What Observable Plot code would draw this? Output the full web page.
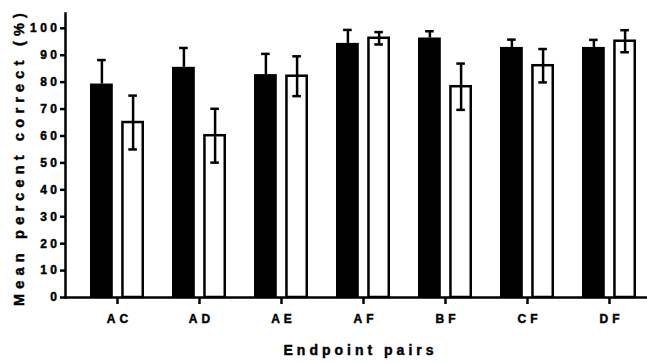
<!DOCTYPE html>
<html>
<head>
<meta charset="utf-8">
<script src="https://cdn.jsdelivr.net/npm/d3@7"></script>
<script src="https://cdn.jsdelivr.net/npm/@observablehq/plot@0.6"></script>
<style>
  html, body { margin: 0; padding: 0; background: #fff; overflow: hidden; }
  #chart svg { display: block; }
</style>
</head>
<body>
<div id="chart"></div>
<script>
// Endpoint pairs and the two groups (filled and open bars), mean ± error
const pairs = ["AC", "AD", "AE", "AF", "BF", "CF", "DF"];
const filledMeans = [79.3, 85.5, 82.8, 94.4, 96.4, 92.9, 92.9];
const filledErrors = [8.9, 7.2, 7.7, 5.0, 2.5, 2.9, 2.8];
const openMeans = [65.0, 60.1, 82.2, 96.3, 78.3, 86.1, 95.2];
const openErrors = [10.0, 10.0, 7.4, 2.3, 8.6, 6.2, 4.1];
const yTicks = d3.range(0, 101, 10);

const filled = pairs.map((pair, i) => ({pair, mean: filledMeans[i], err: filledErrors[i]}));
const open = pairs.map((pair, i) => ({pair, mean: openMeans[i], err: openErrors[i]}));

// Each band holds two bars side by side
const BAR = 23.2, GAP = 8, BAND = 2 * BAR + GAP, CAP = 4.5;
const shift = BAND / 2 - BAR / 2;
const capNear = BAR / 2 - CAP, capFar = BAND - BAR / 2 - CAP;

const font = "'Liberation Sans', Arial, Helvetica, sans-serif";

const chart = Plot.plot({
  width: 647,
  height: 363,
  marginLeft: 65,
  marginRight: 0,
  marginTop: 13,
  marginBottom: 66,
  style: {fontFamily: font, color: "#000", background: "#fff"},
  x: {type: "band", domain: pairs, paddingInner: 0.343, paddingOuter: 0.187, align: 0.7},
  y: {domain: [0, 105.5]},
  marks: [
    // filled bars with upper error whisker
    Plot.barY(filled, {x: "pair", y: "mean", fill: "#000", insetLeft: 0, insetRight: BAR + GAP}),
    Plot.ruleX(filled, {x: "pair", y1: "mean", y2: d => d.mean + d.err, stroke: "#000", strokeWidth: 2.5, dx: -shift}),
    Plot.tickY(filled, {x: "pair", y: d => d.mean + d.err, stroke: "#000", strokeWidth: 2.5, insetLeft: capNear, insetRight: capFar}),
    // open bars with two-sided error bars
    Plot.barY(open, {x: "pair", y: "mean", fill: "#fff", stroke: "#000", strokeWidth: 2.5, insetLeft: BAR + GAP + 1.25, insetRight: 1.25}),
    Plot.ruleX(open, {x: "pair", y1: d => d.mean - d.err, y2: d => d.mean + d.err, stroke: "#000", strokeWidth: 2.5, dx: shift}),
    Plot.tickY(open, {x: "pair", y: d => d.mean + d.err, stroke: "#000", strokeWidth: 2.5, insetLeft: capFar, insetRight: capNear}),
    Plot.tickY(open, {x: "pair", y: d => d.mean - d.err, stroke: "#000", strokeWidth: 2.5, insetLeft: capFar, insetRight: capNear}),
    // axes
    Plot.axisY(yTicks, {tickSize: 5, tickPadding: 2, strokeWidth: 2.5, fontSize: 12, fontWeight: "bold", label: null}),
    Plot.axisX({tickSize: 7, tickPadding: 10, strokeWidth: 2.5, fontSize: 12, fontWeight: "bold", label: null}),
    Plot.frame({anchor: "left", strokeWidth: 2.5}),
    Plot.ruleY([0], {strokeWidth: 2.5}),
    // axis titles
    Plot.text(["Mean percent correct (%)"], {frameAnchor: "left", textAnchor: "middle", rotate: -90, dx: -46, dy: 4, fontSize: 14.5, fontWeight: "bold"}),
    Plot.text(["Endpoint pairs"], {frameAnchor: "bottom", dy: 57, dx: 4, fontSize: 14, fontWeight: "bold"})
  ]
});

// letter spacing and a touch of extra weight for the heavy lettering
const svg = d3.select(chart);
svg.selectAll('g[aria-label="y-axis tick label"] text').attr("letter-spacing", 3.5).attr("dx", "2px");
svg.selectAll('g[aria-label="x-axis tick label"] text').attr("letter-spacing", 4).attr("dx", "2px");
svg.selectAll("text").filter(function () { return this.textContent === "Mean percent correct (%)"; }).attr("letter-spacing", 5.2).attr("dx", "2.5px");
svg.selectAll("text").filter(function () { return this.textContent === "Endpoint pairs"; }).attr("letter-spacing", 4);
svg.selectAll("text").attr("stroke", "#000").attr("stroke-width", 0.45);

document.getElementById("chart").appendChild(chart);
</script>
</body>
</html>
